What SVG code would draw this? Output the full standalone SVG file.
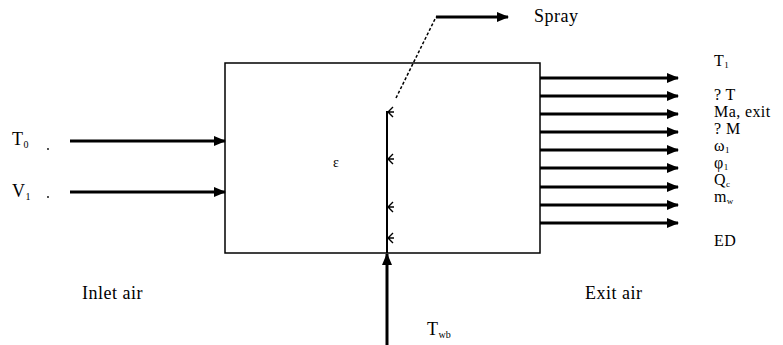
<svg xmlns="http://www.w3.org/2000/svg" width="783" height="345" viewBox="0 0 783 345">
<style>
text{font-family:"Liberation Serif","Times New Roman",serif;font-size:18px;letter-spacing:0.5px;fill:#000}
.out{font-size:16px;letter-spacing:0.4px}
.sub{font-size:10px;letter-spacing:0}
.out .sub{font-size:9px}
.arr{stroke:#000;stroke-width:3;fill:none}
.thin{stroke:#000;stroke-width:1.5;fill:none}
.chev{stroke:#000;stroke-width:1.4;fill:none}
</style>
<defs>
<marker id="ah" viewBox="0 0 12 10" refX="11" refY="5" markerWidth="12" markerHeight="10" markerUnits="userSpaceOnUse" orient="auto">
<path d="M0,0 L12,5 L0,10 Z" fill="#000"/>
</marker>
</defs>
<rect width="783" height="345" fill="#fff"/>
<g id="box">
<rect x="225" y="63" width="315" height="190" class="thin"/>
<text x="333" y="167" style="font-size:14px">ε</text>
</g>
<g id="connectors">
<line x1="70" y1="141" x2="225" y2="141" class="arr" marker-end="url(#ah)"/>
<line x1="70" y1="192" x2="225" y2="192" class="arr" marker-end="url(#ah)"/>
<line x1="540" y1="78" x2="678" y2="78" class="arr" marker-end="url(#ah)"/>
<line x1="540" y1="96" x2="678" y2="96" class="arr" marker-end="url(#ah)"/>
<line x1="540" y1="114" x2="678" y2="114" class="arr" marker-end="url(#ah)"/>
<line x1="540" y1="132" x2="678" y2="132" class="arr" marker-end="url(#ah)"/>
<line x1="540" y1="150" x2="678" y2="150" class="arr" marker-end="url(#ah)"/>
<line x1="540" y1="168" x2="678" y2="168" class="arr" marker-end="url(#ah)"/>
<line x1="540" y1="187" x2="678" y2="187" class="arr" marker-end="url(#ah)"/>
<line x1="540" y1="205" x2="678" y2="205" class="arr" marker-end="url(#ah)"/>
<line x1="540" y1="223" x2="678" y2="223" class="arr" marker-end="url(#ah)"/>
<line x1="387" y1="345" x2="387" y2="254" class="arr" marker-end="url(#ah)"/>
<line x1="387" y1="253" x2="387" y2="111" stroke="#000" stroke-width="2"/>
<line x1="396" y1="98" x2="436" y2="17" stroke="#000" stroke-width="1.5" stroke-dasharray="3 2"/>
<line x1="436" y1="17" x2="508" y2="17" class="arr" marker-end="url(#ah)"/>
<path d="M393,107 L388,112 L393,117 M388,112 L394,112" class="chev"/>
<path d="M393,154 L388,159 L393,164 M388,159 L394,159" class="chev"/>
<path d="M393,202 L388,207 L393,212 M388,207 L394,207" class="chev"/>
<path d="M393,233 L388,238 L393,243 M388,238 L394,238" class="chev"/>
<circle cx="48" cy="149" r="0.9" fill="#000"/>
<circle cx="48" cy="197" r="0.9" fill="#000"/>
</g>
<g id="labels">
<text x="12" y="145">T<tspan class="sub" dy="3">0</tspan></text>
<text x="12" y="197">V<tspan class="sub" dy="3">1</tspan></text>
<text x="534" y="22">Spray</text>
<text x="82" y="299">Inlet air</text>
<text x="585" y="299">Exit air</text>
<text x="427" y="335">T<tspan class="sub" dy="3">wb</tspan></text>
<text class="out" x="714" y="66">T<tspan class="sub" dy="2">1</tspan></text>
<text class="out" x="714" y="100">? T</text>
<text class="out" x="714" y="117">Ma, exit</text>
<text class="out" x="714" y="134">? M</text>
<text class="out" x="714" y="151">ω<tspan class="sub" dy="2">1</tspan></text>
<text class="out" x="714" y="168">φ<tspan class="sub" dy="2">1</tspan></text>
<text class="out" x="714" y="185">Q<tspan class="sub" dy="2">c</tspan></text>
<text class="out" x="714" y="202">m<tspan class="sub" dy="2">w</tspan></text>
<text class="out" x="714" y="246">ED</text>
</g>
</svg>
